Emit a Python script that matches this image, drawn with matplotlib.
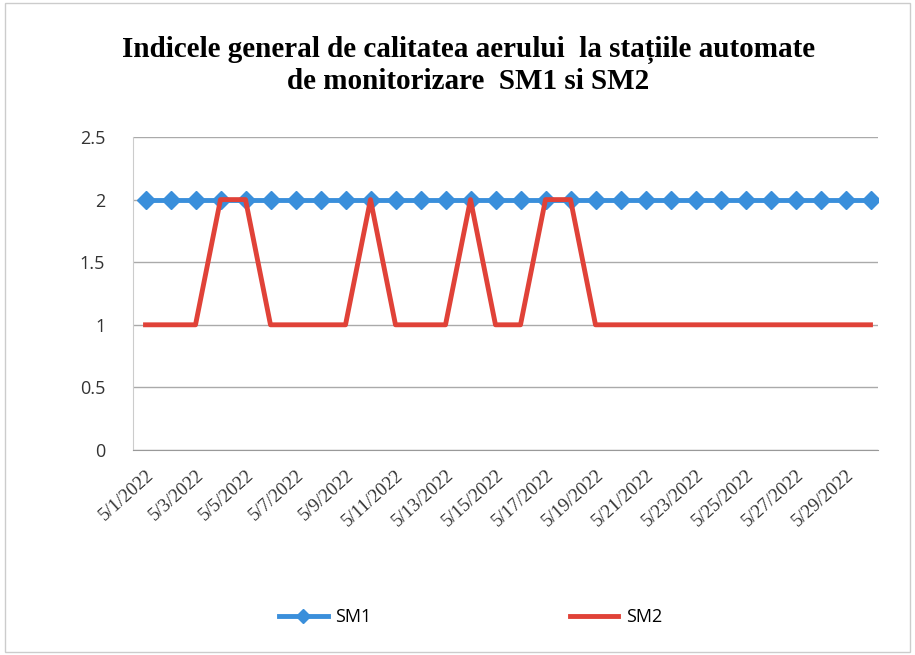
import numpy as np
import matplotlib.pyplot as plt

dates = ['5/%d/2022' % d for d in range(1, 31)]
sm1 = [2] * 30
sm2 = [1, 1, 1, 2, 2, 1, 1, 1, 1, 2,
       1, 1, 1, 2, 1, 1, 2, 2, 1, 1,
       1, 1, 1, 1, 1, 1, 1, 1, 1, 1]
yticks = [0, 0.5, 1, 1.5, 2, 2.5]

fig = plt.figure(figsize=(9.15, 6.55), dpi=100)
ax = fig.add_axes([133 / 915, 1 - 450 / 655, 745 / 915, 313 / 655])

x = np.arange(len(dates))
ax.plot(x, sm1, color='#3a8fdb', lw=3.5, marker='D', ms=9, label='SM1', zorder=3)
ax.plot(x, sm2, color='#e04238', lw=3.5, label='SM2', zorder=4)

ax.set_xlim(-0.5, len(dates) - 0.7)
ax.set_ylim(0, 2.5)
ax.set_yticks(yticks)
ax.set_yticklabels(['0', '0.5', '1', '1.5', '2', '2.5'], fontsize=13,
                   family='Open Sans', color='#333333')
ax.yaxis.grid(True, color='#aaaaaa', lw=1)
ax.tick_params(axis='y', length=0, pad=20)
ax.set_xticks(x[::2])
ax.set_xticklabels(dates[::2], rotation=42, ha='right', rotation_mode='anchor',
                   fontsize=13.5, family='Liberation Serif', color='#333333')
ax.tick_params(axis='x', length=0, pad=12)
for side in ['top', 'right']:
    ax.spines[side].set_visible(False)
ax.spines['left'].set_color('#cccccc')
ax.spines['bottom'].set_color('#999999')

fig.text(0.512, 0.9, 'Indicele general de calitatea aerului  la stațiile automate\nde monitorizare  SM1 si SM2',
         ha='center', va='center', fontsize=21, fontweight='bold',
         family='Liberation Serif', linespacing=1.15)

fig.legend(loc='center', bbox_to_anchor=(0.514, 1 - 617 / 655), ncol=2, frameon=False,
           columnspacing=11, handlelength=2.7, handletextpad=0.4, markerscale=0.8,
           prop={'family': 'Open Sans', 'size': 13})

fig.patches.append(plt.Rectangle((0.005, 0.005), 0.99, 0.99, transform=fig.transFigure,
                                 fill=False, ec='#cccccc', lw=1))
fig.savefig('out.png', dpi=100)
